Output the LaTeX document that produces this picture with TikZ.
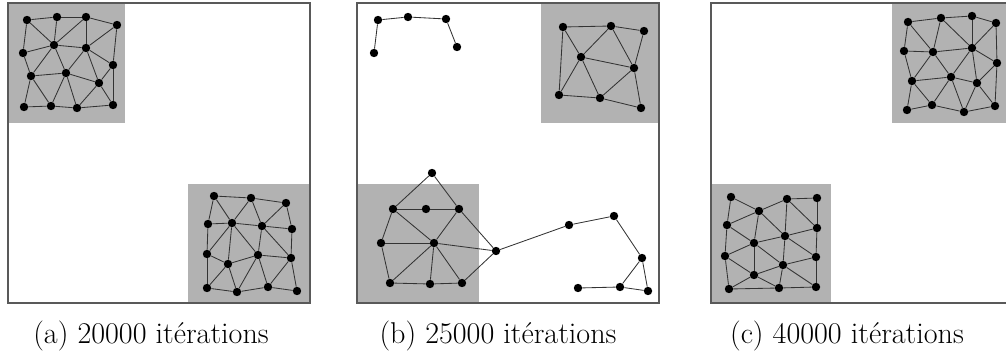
\documentclass[tikz,border=0pt]{standalone}
\tikzset{
  dot/.style={circle, fill=black, inner sep=0pt, minimum size=2.1mm},
  edge/.style={black!80, line width=0.6pt},
  zone/.style={fill=black!30},
  frame/.style={draw=black!65, line width=0.8pt}
}
\begin{document}
\begin{tikzpicture}[x=0.025cm, y=-0.025cm]
            \useasboundingbox (0,0) rectangle (1006,360);
            % grey zones
            \fill[zone] (8,3) rectangle (125,123);
            \fill[zone] (188,184) rectangle (310,303);
            \fill[zone] (541,3) rectangle (660,123);
            \fill[zone] (357,184) rectangle (479,303);
            \fill[zone] (711,184) rectangle (831,303);
            \fill[zone] (892,3) rectangle (1013,123);
            \foreach \x in {8,357,711} {
                \draw[frame] (\x,3) rectangle ({\x+302},303);
            }

            % (a)
            \foreach \n/\x/\y in {a1/27/20,a2/57/17,a3/86/17,a4/117/25,a5/23/53,a6/54/45,a7/86/48,a8/113/65,
                a9/31/76,a10/66/73,a11/99/83,a12/24/107,a13/51/106,a14/77/108,a15/113/105,
                b1/214/196,b2/251/198,b3/286/203,b4/208/224,b5/232/223,b6/262/226,b7/292/229,b8/207/254,
                b9/228/264,b10/258/255,b11/291/258,b12/207/288,b13/237/292,b14/268/287,b15/297/291} {
                \node[dot] (\n) at (\x,\y) {};
            }
            \foreach \u/\v in {a1/a2,a2/a3,a3/a4,a1/a5,a1/a6,a2/a6,a3/a6,a3/a7,a4/a7,a4/a8,a5/a6,a6/a7,
                a5/a9,a6/a9,a6/a10,a7/a10,a7/a8,a7/a11,a8/a11,a8/a15,a9/a10,a10/a11,a9/a12,a9/a13,
                a10/a13,a10/a14,a11/a14,a11/a15,a12/a13,a13/a14,a14/a15} {
                \draw[edge] (\u) -- (\v);
            }
            \foreach \u/\v in {b1/b2,b2/b3,b1/b4,b1/b5,b2/b5,b2/b6,b3/b6,b3/b7,b4/b5,b5/b6,b6/b7,
                b4/b8,b5/b8,b5/b9,b5/b10,b6/b10,b6/b11,b7/b11,b8/b9,b9/b10,b10/b11,b8/b12,b9/b12,
                b9/b13,b10/b13,b10/b14,b11/b14,b11/b15,b12/b13,b13/b14,b14/b15} {
                \draw[edge] (\u) -- (\v);
            }

            % (b)
            \foreach \n/\x/\y in {c1/374/53,c2/378/20,c3/408/17,c4/446/19,c5/457/47,
                d1/563/27,d2/611/26,d3/644/31,d4/581/57,d5/634/68,d6/559/95,d7/600/98,d8/641/108,
                e1/432/173,e2/393/209,e3/426/209,e4/459/209,e5/381/243,e6/434/243,e7/496/251,
                e8/390/283,e9/430/284,e10/462/283,
                f1/569/225,f2/614/216,f3/642/258,f4/620/287,f5/648/291,f6/578/288} {
                \node[dot] (\n) at (\x,\y) {};
            }
            \foreach \u/\v in {c1/c2,c2/c3,c3/c4,c4/c5,
                d1/d2,d2/d3,d1/d4,d2/d4,d2/d5,d3/d5,d1/d6,d4/d5,d4/d6,d4/d7,d5/d7,d5/d8,d6/d7,d7/d8,
                e1/e2,e1/e4,e2/e3,e3/e4,e2/e5,e2/e6,e4/e6,e5/e6,e5/e8,e6/e8,e6/e9,e6/e10,e6/e7,
                e4/e7,e7/e10,e8/e9,e9/e10,
                e7/f1,f1/f2,f2/f3,f3/f4,f3/f5,f4/f5,f4/f6} {
                \draw[edge] (\u) -- (\v);
            }

            % (c)
            \foreach \n/\x/\y in {g1/731/197,g2/759/211,g3/787/199,g4/817/198,g5/727/225,g6/754/243,
                g7/785/236,g8/817/228,g9/725/256,g10/783/265,g11/816/257,g12/754/275,g13/729/289,
                g14/779/288,g15/816/287,
                h1/908/22,h2/941/18,h3/972/16,h4/996/23,h5/904/51,h6/933/52,h7/972/48,h8/997/63,
                h9/912/81,h10/951/77,h11/977/83,h12/907/110,h13/932/105,h14/964/112,h15/995/106} {
                \node[dot] (\n) at (\x,\y) {};
            }
            \foreach \u/\v in {g1/g2,g2/g3,g3/g4,g1/g5,g2/g5,g2/g6,g2/g7,g3/g7,g3/g8,g4/g8,g5/g6,
                g6/g7,g7/g8,g5/g9,g6/g9,g6/g12,g6/g10,g7/g10,g7/g11,g8/g11,g9/g12,g10/g12,g10/g11,
                g9/g13,g12/g13,g12/g14,g10/g14,g10/g15,g11/g15,g13/g14,g14/g15} {
                \draw[edge] (\u) -- (\v);
            }
            \foreach \u/\v in {h1/h2,h2/h3,h3/h4,h1/h5,h1/h6,h2/h6,h2/h7,h3/h7,h4/h7,h4/h8,h5/h6,
                h6/h7,h7/h8,h5/h9,h6/h9,h6/h10,h7/h10,h7/h11,h8/h11,h9/h10,h10/h11,h9/h12,h9/h13,
                h10/h13,h10/h14,h11/h14,h11/h15,h8/h15,h12/h13,h13/h14,h14/h15} {
                \draw[edge] (\u) -- (\v);
            }

            \node[anchor=base] (capa) at (151,343) {\fontsize{21.4}{26}\selectfont (a) 20000 itérations};
            \node[anchor=base] (capb) at (498,343) {\fontsize{21.4}{26}\selectfont (b) 25000 itérations};
            \node[anchor=base] (capc) at (847,343) {\fontsize{21.4}{26}\selectfont (c) 40000 itérations};
\end{tikzpicture}
\end{document}
